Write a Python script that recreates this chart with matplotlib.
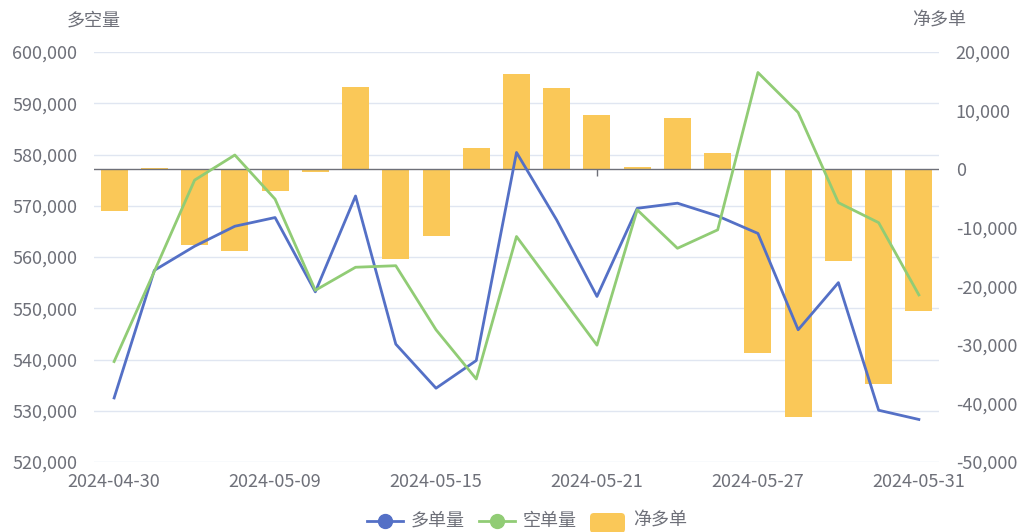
import numpy as np
import matplotlib.pyplot as plt
from matplotlib.ticker import FuncFormatter, MultipleLocator
from matplotlib.lines import Line2D
from matplotlib.patches import FancyBboxPatch
from matplotlib.transforms import IdentityTransform

plt.rcParams['font.family'] = ['Noto Sans CJK SC', 'DejaVu Sans']

# 数据
dates = ['2024-04-30', '2024-05-06', '2024-05-07', '2024-05-08', '2024-05-09',
         '2024-05-10', '2024-05-13', '2024-05-14', '2024-05-15', '2024-05-16',
         '2024-05-17', '2024-05-20', '2024-05-21', '2024-05-22', '2024-05-23',
         '2024-05-24', '2024-05-27', '2024-05-28', '2024-05-29', '2024-05-30',
         '2024-05-31']
long_qty = [532500, 557400, 562100, 566000, 567700, 553200, 571900, 543000, 534400, 539800,
            580400, 567200, 552300, 569500, 570500, 568000, 564600, 545800, 555000, 530100,
            528300]
short_qty = [539600, 557200, 575000, 579900, 571300, 553500, 558000, 558300, 545800, 536200,
             564000, 553400, 542800, 569200, 561700, 565300, 596000, 588200, 570600, 566700,
             552600]
net_long = [-7100, 200, -13000, -13900, -3700, -500, 14000, -15300, -11400, 3600,
            16300, 13800, 9300, 300, 8700, 2800, -31400, -42400, -15600, -36600,
            -24200]
label_step = 4

BLUE, GREEN, YELLOW = '#5470c6', '#91cc75', '#fac858'
GRAY, GRID = '#6e7079', '#e0e6f1'
FS = 13

W, H = 1018, 532
fig = plt.figure(figsize=(W / 100, H / 100), dpi=100)
ax = fig.add_axes([94 / W, 70 / H, 845 / W, 410 / H])
ax2 = ax.twinx()
ax3 = ax.twinx()

x = np.arange(len(dates))
fmt = FuncFormatter(lambda v, p: f'{v:,.0f}')

# 左轴 + 网格
ax.set_xlim(-0.5, len(dates) - 0.5)
ax.set_ylim(520000, 600000)
ax.yaxis.set_major_locator(MultipleLocator(10000))
ax.yaxis.set_major_formatter(fmt)
ax.grid(axis='y', color=GRID, lw=1)
ax.set_axisbelow(True)
ax.set_xticks(x[::label_step])
ax.set_xticklabels(dates[::label_step])
ax.tick_params(axis='y', length=0, pad=12, labelsize=FS, labelcolor=GRAY)
ax.tick_params(axis='x', length=0, pad=8, labelsize=FS, labelcolor=GRAY)

# 右轴: 净多单柱
ax2.set_ylim(-50000, 20000)
ax2.yaxis.set_major_locator(MultipleLocator(10000))
ax2.yaxis.set_major_formatter(fmt)
ax2.tick_params(axis='y', length=0, pad=12, labelsize=FS, labelcolor=GRAY)
ax2.plot(x[::label_step], [0] * len(x[::label_step]), ls='none', marker=3, ms=5,
         mew=1, color=GRAY, zorder=1)
ax2.bar(x, net_long, width=0.67, color=YELLOW, zorder=2)
ax2.axhline(0, color=GRAY, lw=1, zorder=3)

# 折线
ax3.set_ylim(520000, 600000)
ax3.set_yticks([])
ax3.plot(x, long_qty, color=BLUE, lw=2)
ax3.plot(x, short_qty, color=GREEN, lw=2)

for a in (ax, ax2, ax3):
    for s in a.spines.values():
        s.set_visible(False)

fig.text(94 / W, 1 - 21 / H, '多空量', ha='center', va='center', fontsize=FS, color=GRAY)
fig.text(939 / W, 1 - 21 / H, '净多单', ha='center', va='center', fontsize=FS, color=GRAY)

# 图例
ly = 1 - 521 / H
for x0, c, name in [(367, BLUE, '多单量'), (479, GREEN, '空单量')]:
    fig.add_artist(Line2D([x0 / W, (x0 + 36) / W], [ly, ly], color=c, lw=2))
    fig.add_artist(Line2D([(x0 + 18) / W], [ly], color=c, marker='o', ms=10))
    fig.text((x0 + 44) / W, ly, name, ha='left', va='center', fontsize=FS, color=GRAY)
rect = FancyBboxPatch((590, -1), 35, 20, boxstyle='round,pad=0,rounding_size=4',
                      transform=IdentityTransform(), color=YELLOW, lw=0)
fig.add_artist(rect)
fig.text(633 / W, ly, '净多单', ha='left', va='center', fontsize=FS, color=GRAY)

fig.savefig('out.png', dpi=100)
